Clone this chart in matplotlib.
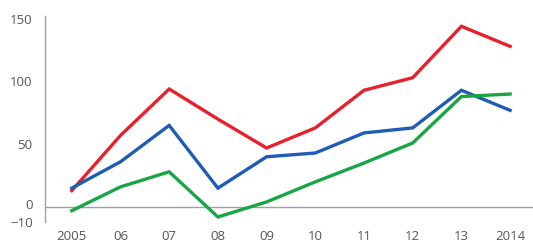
import numpy as np
import matplotlib.pyplot as plt
import matplotlib.transforms as mtransforms

plt.rcParams['font.family'] = ['Open Sans', 'DejaVu Sans']

years = ["2005", "06", "07", "08", "09", "10", "11", "12", "13", "2014"]
red = [13, 57, 94, 70, 47, 63, 93, 103, 144, 128]
blue = [15, 36, 65, 15, 40, 43, 59, 63, 93, 77]
green = [-3, 16, 28, -8, 4, 20, 35, 51, 88, 90]

x = np.arange(len(years))

fig = plt.figure(figsize=(5.33, 2.45), dpi=100)
ax = fig.add_axes([45/533, 23/245, 488/533, 207/245])

ax.plot(x, red, color="#e8202c", lw=2.4, solid_joinstyle="miter")
ax.plot(x, blue, color="#1f5cb4", lw=2.4, solid_joinstyle="miter")
ax.plot(x, green, color="#18a544", lw=2.4, solid_joinstyle="miter")

ax.axhline(0, color="#a0a0a0", lw=1, zorder=0)

ax.set_xlim(-0.55, 9.47)
ax.set_ylim(-12, 153)
ax.set_xticks(x)
ax.set_xticklabels(years)
ax.set_yticks([-10, 0, 50, 100, 150])
ax.set_yticklabels(["\u221210", "0", "50", "100", "150"])

for s in ["top", "right", "bottom"]:
    ax.spines[s].set_visible(False)
ax.spines["left"].set_color("#a0a0a0")
ax.spines["left"].set_linewidth(1)
ax.spines["left"].set_bounds(-12, 152)

ax.tick_params(axis="both", length=0, labelsize=9.5, colors="#555555")
ax.tick_params(axis="y", pad=9)
ax.tick_params(axis="x", pad=6)

# nudge the crowded labels near zero apart a bit
labels = ax.get_yticklabels()
labels[0].set_transform(labels[0].get_transform() + mtransforms.ScaledTranslation(0, -2/72, fig.dpi_scale_trans))
labels[1].set_transform(labels[1].get_transform() + mtransforms.ScaledTranslation(0, 2/72, fig.dpi_scale_trans))

fig.savefig("out.png", dpi=100)
